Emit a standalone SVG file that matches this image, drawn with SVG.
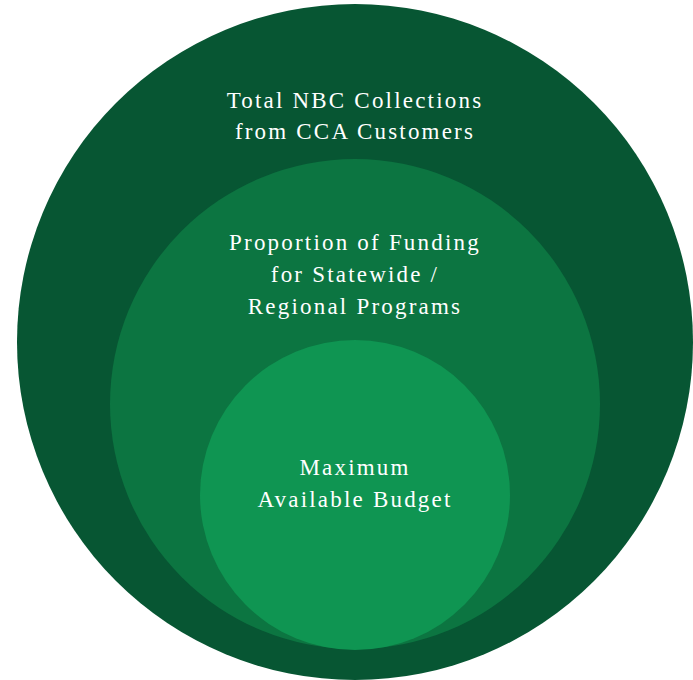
<svg xmlns="http://www.w3.org/2000/svg" width="693" height="680" viewBox="0 0 693 680">
<style>
text{font-family:'Liberation Serif','Times New Roman',serif;font-size:23px;fill:#ffffff;text-anchor:middle;letter-spacing:2.2px}
</style>
<rect width="693" height="680" fill="#ffffff"/>
<g id="outer">
<circle cx="355" cy="342" r="338" fill="#075633"/>
<text x="355" y="108">Total NBC Collections</text>
<text x="355" y="139">from CCA Customers</text>
</g>
<g id="middle">
<circle cx="355" cy="404" r="245" fill="#0C7541"/>
<text x="355" y="250">Proportion of Funding</text>
<text x="355" y="282">for Statewide /</text>
<text x="355" y="314">Regional Programs</text>
</g>
<g id="inner">
<circle cx="355" cy="495" r="155" fill="#0F9552"/>
<text x="355" y="475">Maximum</text>
<text x="355" y="507">Available Budget</text>
</g>
<g id="connectors"/>
</svg>
